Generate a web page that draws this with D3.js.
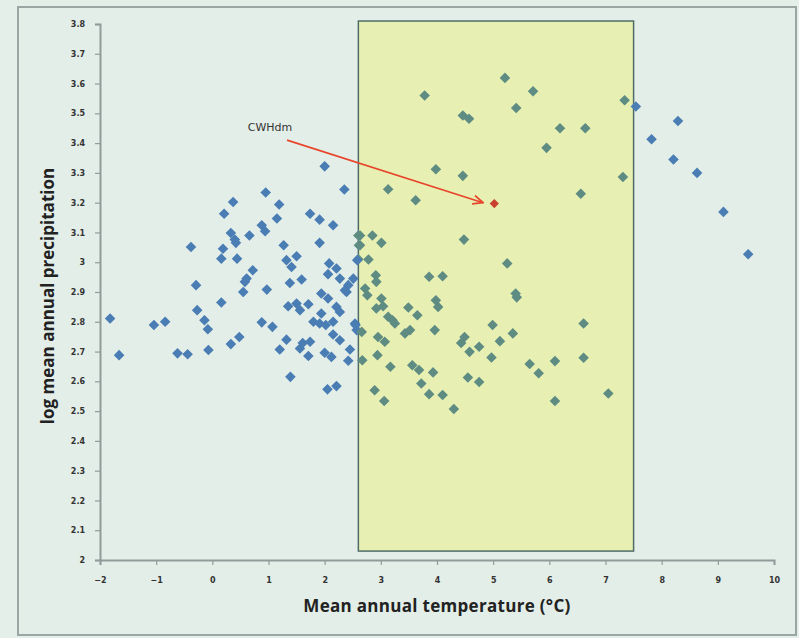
<!DOCTYPE html>
<html>
<head>
<meta charset="utf-8">
<script src="https://cdn.jsdelivr.net/npm/d3@7"></script>
<style>
  body { margin: 0; background: #e5efea; }
  svg { display: block; }
  .tick text { font-family: "DejaVu Sans", sans-serif; font-size: 8px; font-weight: bold; fill: #333; }
  .axis-title { font-family: "Open Sans", "DejaVu Sans", sans-serif; font-size: 17px; font-weight: bold; fill: #222; }
</style>
</head>
<body>
<div id="chart"></div>
<script>
// mean annual temperature (°C)
const temps = [
  2.0, 2.35, 0.95, 0.37, 1.19, 0.21, 1.15, 1.74, 1.91, 2.15, 0.88, 0.94, 0.33, 0.66, 0.40, 0.42,
  1.91, -0.38, 1.27, 0.19, 0.16, 0.44, 1.32, 1.50, 1.41, 2.08, 2.21, 2.06, 0.72, 0.61, 0.58, 0.55,
  -0.29, 0.97, 1.38, 1.59, 2.27, 2.42, 2.36, 2.51, 2.39, 1.94, 2.06, 0.16, 1.35, 1.50, 1.56, 1.71,
  2.21, 2.27, -0.27, -0.14, -0.08, -1.82, -1.66, -1.04, -0.84, -0.62, -0.44, -0.07, 0.33, 0.48,
  0.88, 1.07, 1.80, 1.91, 2.02, 2.15, 1.94, 2.54, 1.32, 1.20, 1.61, 1.74, 1.56, 1.71, 2.00, 2.12,
  2.15, 2.27, 2.45, 2.42, 1.39, 2.05, 2.21, 2.57,
  2.6, 2.61, 2.6, 2.63, 2.85, 3.01, 2.63, 2.58, 2.78,
  5.21, 5.71, 3.78, 5.41, 4.46, 4.57, 7.34, 7.54, 6.19, 6.64, 5.95, 3.98, 4.46, 7.31, 3.13, 3.62,
  6.56, 4.48,
  8.29, 7.82, 8.21, 8.63, 9.10, 9.54,
  5.25, 3.86, 4.10, 2.91, 2.92, 2.72, 2.76, 5.40, 5.42, 3.01, 2.92, 3.04, 3.98, 4.02, 3.49, 3.65,
  3.13, 3.25, 3.21, 3.52, 3.43, 3.96, 4.99, 5.35, 6.61, 2.55, 2.66, 2.95, 3.07, 4.49, 4.43, 4.58,
  4.75, 5.12, 4.97, 2.94, 2.67, 3.17, 3.56, 3.68, 3.93, 5.65, 5.81, 6.10, 6.61, 4.55, 4.75, 3.72,
  2.89, 3.06, 3.86, 4.10, 4.30, 6.10, 7.05
];

// log mean annual precipitation
const precip = [
  3.322, 3.244, 3.234, 3.202, 3.194, 3.163, 3.147, 3.163, 3.143, 3.124, 3.124, 3.104, 3.098, 3.09, 3.076, 3.065,
  3.065, 3.051, 3.057, 3.045, 3.012, 3.012, 3.007, 3.02, 2.984, 2.996, 2.979, 2.96, 2.973, 2.945, 2.934, 2.90,
  2.923, 2.908, 2.93, 2.942, 2.945, 2.923, 2.906, 2.945, 2.90, 2.895, 2.878, 2.865, 2.852, 2.861, 2.839, 2.859,
  2.85, 2.833, 2.839, 2.805, 2.775, 2.811, 2.688, 2.789, 2.80, 2.694, 2.691, 2.705, 2.725, 2.749,
  2.798, 2.783, 2.80, 2.794, 2.789, 2.80, 2.828, 2.794, 2.74, 2.707, 2.729, 2.733, 2.71, 2.685, 2.696, 2.682,
  2.757, 2.738, 2.707, 2.669, 2.615, 2.573, 2.584, 2.772,
  3.09, 3.057, 3.01, 3.09, 3.09, 3.065, 3.057, 3.007, 3.009,
  3.619, 3.574, 3.56, 3.518, 3.493, 3.482, 3.544, 3.523, 3.45, 3.45, 3.384, 3.312, 3.29, 3.286, 3.245, 3.208,
  3.23, 3.076,
  3.474, 3.413, 3.345, 3.30, 3.169, 3.027,
  2.996, 2.951, 2.953, 2.956, 2.934, 2.912, 2.889, 2.895, 2.882, 2.878, 2.845, 2.852, 2.872, 2.85, 2.848, 2.822,
  2.817, 2.794, 2.805, 2.772, 2.761, 2.772, 2.789, 2.761, 2.794, 2.789, 2.766, 2.749, 2.733, 2.749, 2.729, 2.699,
  2.716, 2.735, 2.68, 2.688, 2.671, 2.649, 2.654, 2.638, 2.63, 2.658, 2.627, 2.668, 2.679, 2.613, 2.598, 2.593,
  2.57, 2.534, 2.557, 2.554, 2.507, 2.534, 2.559
];

// highlighted site
const highlightName = "CWHdm";
const highlightPoint = [5.02, 3.197];
const labelPos = [0.63, 3.44];
const arrowFrom = [1.33, 3.41];
const arrowTo = [4.82, 3.2];

// shaded band
const bandX = [2.6, 7.5];
const bandY = [2.03, 3.81];

const xTicks = d3.range(-2, 11, 1);
const yTicks = d3.range(20, 39, 1).map(d => d / 10);

const W = 799, H = 638;
const x = d3.scaleLinear().domain([-2, 10]).range([100, 774]);
const y = d3.scaleLinear().domain([2, 3.8]).range([560, 24]);

const svg = d3.select("#chart").append("svg")
    .attr("width", W)
    .attr("height", H);

// chart frame
svg.append("rect")
    .attr("x", 18).attr("y", 7)
    .attr("width", 778).attr("height", 628)
    .attr("fill", "#e3eee8")
    .attr("stroke", "#9aa6a3")
    .attr("stroke-width", 2);

svg.append("defs").append("marker")
    .attr("id", "head")
    .attr("viewBox", "0 0 10 10")
    .attr("refX", 9).attr("refY", 5)
    .attr("markerWidth", 7).attr("markerHeight", 7)
    .attr("orient", "auto")
    .append("path")
    .attr("d", "M0,1 L9,5 L0,9")
    .attr("fill", "none")
    .attr("stroke", "#e8452c")
    .attr("stroke-width", 1.6);

// band behind points
svg.append("rect")
    .attr("x", x(bandX[0]))
    .attr("y", y(bandY[1]))
    .attr("width", x(bandX[1]) - x(bandX[0]))
    .attr("height", y(bandY[0]) - y(bandY[1]))
    .attr("fill", "#e7f0b2")
    .attr("stroke", "#4f6d68")
    .attr("stroke-width", 1.5);

// axes
const xAxis = svg.append("g")
    .attr("transform", `translate(0,${y(2)})`)
    .call(d3.axisBottom(x).tickValues(xTicks).tickSize(5).tickPadding(12).tickFormat(d3.format("d")));

const yAxis = svg.append("g")
    .attr("transform", `translate(${x(-2)},0)`)
    .call(d3.axisLeft(y).tickValues(yTicks).tickSize(5).tickPadding(10).tickFormat(d => +d.toFixed(1) + ""));

[xAxis, yAxis].forEach(g => {
    g.select(".domain").attr("stroke", "#8f9c99").attr("stroke-width", 2);
    g.selectAll(".tick line").attr("stroke", "#8f9c99").attr("stroke-width", 1.2);
});

const data = temps.map((t, i) => ({ t: t, p: precip[i] }));
const inBand = d => d.t >= bandX[0] && d.t <= bandX[1];

const diamond = d3.symbol().type(d3.symbolSquare).size(56);

svg.append("g")
    .selectAll("path")
    .data(data)
    .join("path")
    .attr("d", diamond)
    .attr("transform", d => `translate(${x(d.t)},${y(d.p)}) rotate(45)`)
    .attr("fill", d => inBand(d) ? "#5f8c82" : "#4a7db3");

// highlighted point + annotation
svg.append("path")
    .attr("d", d3.symbol().type(d3.symbolSquare).size(42))
    .attr("transform", `translate(${x(highlightPoint[0])},${y(highlightPoint[1])}) rotate(45)`)
    .attr("fill", "#c8412e");

svg.append("line")
    .attr("x1", x(arrowFrom[0])).attr("y1", y(arrowFrom[1]))
    .attr("x2", x(arrowTo[0])).attr("y2", y(arrowTo[1]))
    .attr("stroke", "#e8452c")
    .attr("stroke-width", 1.6)
    .attr("marker-end", "url(#head)");

svg.append("text")
    .attr("x", x(labelPos[0])).attr("y", y(labelPos[1]))
    .attr("font-family", "DejaVu Sans, sans-serif")
    .attr("font-size", 11)
    .attr("fill", "#333")
    .text(highlightName);

// axis titles
svg.append("text")
    .attr("class", "axis-title")
    .attr("x", 437).attr("y", 612)
    .attr("text-anchor", "middle")
    .attr("letter-spacing", "0.3")
    .text("Mean annual temperature (°C)");

svg.append("text")
    .attr("class", "axis-title")
    .attr("transform", `translate(54,${(y(2) + y(3.8)) / 2 + 4}) rotate(-90)`)
    .attr("text-anchor", "middle")
    .text("log mean annual precipitation");
</script>
</body>
</html>
